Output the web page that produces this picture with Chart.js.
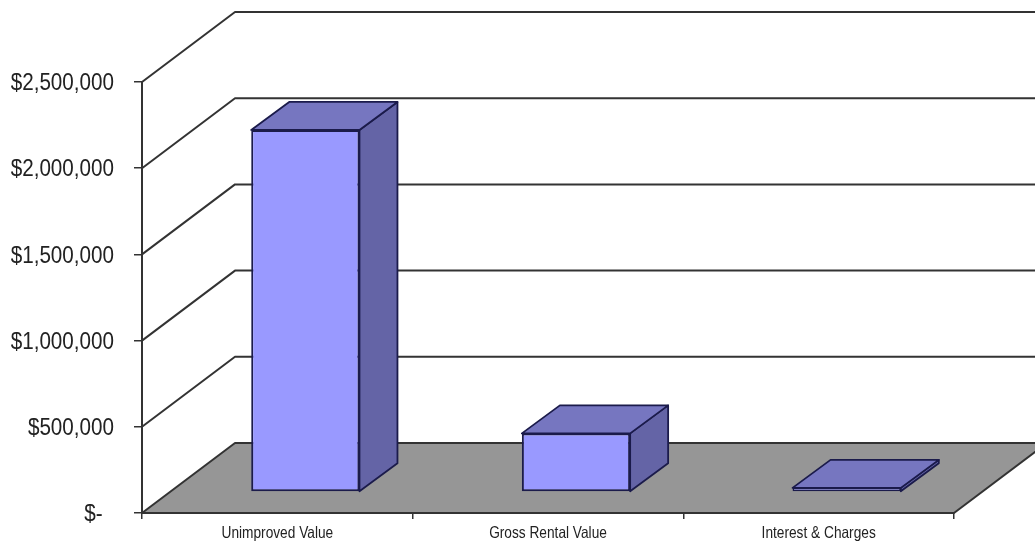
<!DOCTYPE html>
<html>
<head>
<meta charset="utf-8">
<title>Value breakdown</title>
<script src="https://cdn.jsdelivr.net/npm/chart.js@4"></script>
<style>
    html, body { margin: 0; padding: 0; background: #fff; overflow: hidden; }
    canvas { display: block; }
</style>
</head>
<body>
<canvas id="chart" width="1035" height="545"></canvas>
<script>
const categories = ['Unimproved Value', 'Gross Rental Value', 'Interest & Charges'];
const values = [2100000, 340000, 24000];

const axisMax = 2500000;
const axisStep = 500000;

// depth of the floor and where the boxes sit along it
const floorDepth = { x: 93, y: -70 };
const boxOffset = { x: 28, y: -21 };
const boxDepth = { x: 38, y: -28 };

const lineColor = '#333333';
const boxEdge = '#1b1b4b';
const textColor = '#222222';
const labelFamily = '"Liberation Sans", Arial, sans-serif';

function poly(ctx, pts, fill, stroke, width) {
    ctx.beginPath();
    pts.forEach((p, i) => i ? ctx.lineTo(p[0], p[1]) : ctx.moveTo(p[0], p[1]));
    ctx.closePath();
    if (fill) {
        ctx.fillStyle = fill;
        ctx.fill();
    }
    if (stroke) {
        ctx.strokeStyle = stroke;
        ctx.lineWidth = width;
        ctx.lineJoin = 'round';
        ctx.stroke();
    }
}

// no condensed face installed, so the labels get squeezed sideways
function squeezedText(ctx, text, x, y, align, size, squeeze) {
    ctx.save();
    ctx.translate(x, y);
    ctx.scale(squeeze, 1);
    ctx.font = size + 'px ' + labelFamily;
    ctx.fillStyle = textColor;
    ctx.textAlign = align;
    ctx.textBaseline = 'middle';
    ctx.fillText(text, 0, 0);
    ctx.restore();
}

// floor, back wall lines and side wall lines
const walls = {
    id: 'walls',
    beforeDraw(chart) {
        const ctx = chart.ctx;
        const area = chart.chartArea;
        const yAxis = chart.scales.y;
        const dx = floorDepth.x, dy = floorDepth.y;
        const y0 = yAxis.getPixelForValue(0);

        ctx.save();
        ctx.fillStyle = '#fff';
        ctx.fillRect(0, 0, chart.width, chart.height);

        poly(ctx, [
            [area.left, y0],
            [area.right, y0],
            [area.right + dx, y0 + dy],
            [area.left + dx, y0 + dy]
        ], '#969696', lineColor, 2);

        ctx.strokeStyle = lineColor;
        ctx.lineWidth = 2;
        for (let v = axisStep; v <= axisMax; v += axisStep) {
            const y = yAxis.getPixelForValue(v);
            ctx.beginPath();
            ctx.moveTo(area.left, y);
            ctx.lineTo(area.left + dx, y + dy);
            ctx.lineTo(area.right + dx, y + dy);
            ctx.stroke();
        }
        ctx.restore();
    }
};

// top and side of each box, then shift the plane so the library draws the front face
const boxes = {
    id: 'boxes',
    beforeDatasetDraw(chart, args) {
        const ctx = chart.ctx;
        const dx = boxDepth.x, dy = boxDepth.y;
        ctx.save();
        ctx.translate(boxOffset.x, boxOffset.y);
        args.meta.data.forEach(bar => {
            const l = bar.x - bar.width / 2;
            const r = bar.x + bar.width / 2;
            poly(ctx, [[r, bar.y], [r + dx, bar.y + dy], [r + dx, bar.base + dy], [r, bar.base]], '#6464a6', boxEdge, 1.8);
            poly(ctx, [[l, bar.y], [l + dx, bar.y + dy], [r + dx, bar.y + dy], [r, bar.y]], '#7676c0', boxEdge, 1.8);
        });
    },
    afterDatasetDraw(chart) {
        chart.ctx.restore();
    }
};

// tick labels, placed from the scales' own tick positions
const axisLabels = {
    id: 'axisLabels',
    afterDraw(chart) {
        const ctx = chart.ctx;
        const { x: xAxis, y: yAxis } = chart.scales;
        yAxis.ticks.forEach((tick, i) => {
            squeezedText(ctx, tick.label, 114, yAxis.getPixelForTick(i) + 1.5, 'right', 24, 0.86);
        });
        xAxis.ticks.forEach((tick, i) => {
            squeezedText(ctx, tick.label, xAxis.getPixelForTick(i), 533, 'center', 16.5, 0.83);
        });
    }
};

new Chart(document.getElementById('chart'), {
    type: 'bar',
    data: {
        labels: categories,
        datasets: [{
            data: values,
            backgroundColor: '#9999ff',
            borderColor: boxEdge,
            borderWidth: [2, 2, 1.5],
            borderSkipped: false,
            barPercentage: 0.4,
            categoryPercentage: 1,
            clip: false
        }]
    },
    options: {
        responsive: false,
        animation: false,
        layout: { padding: { left: 0, right: 81, top: 82, bottom: 0 } },
        plugins: {
            legend: { display: false },
            title: { display: false },
            tooltip: { enabled: false }
        },
        scales: {
            x: {
                afterFit: s => {
                    s.height = 32;
                    s.paddingLeft = 0;
                    s.paddingRight = 0;
                },
                border: { color: lineColor, width: 2 },
                grid: { drawOnChartArea: false, drawTicks: true, tickLength: 6, color: lineColor, lineWidth: 1.5 },
                ticks: { display: false, autoSkip: false, maxRotation: 0 }
            },
            y: {
                min: 0,
                max: axisMax,
                afterFit: s => {
                    s.width = 142;
                    s.paddingTop = 0;
                    s.paddingBottom = 0;
                },
                border: { color: lineColor, width: 2 },
                grid: { drawOnChartArea: false, drawTicks: true, tickLength: 8, color: lineColor, lineWidth: 1.5 },
                ticks: {
                    display: false,
                    stepSize: axisStep,
                    callback: v => v === 0 ? '$-  ' : '$' + v.toLocaleString('en-US')
                }
            }
        }
    },
    plugins: [walls, boxes, axisLabels]
});
</script>
</body>
</html>
